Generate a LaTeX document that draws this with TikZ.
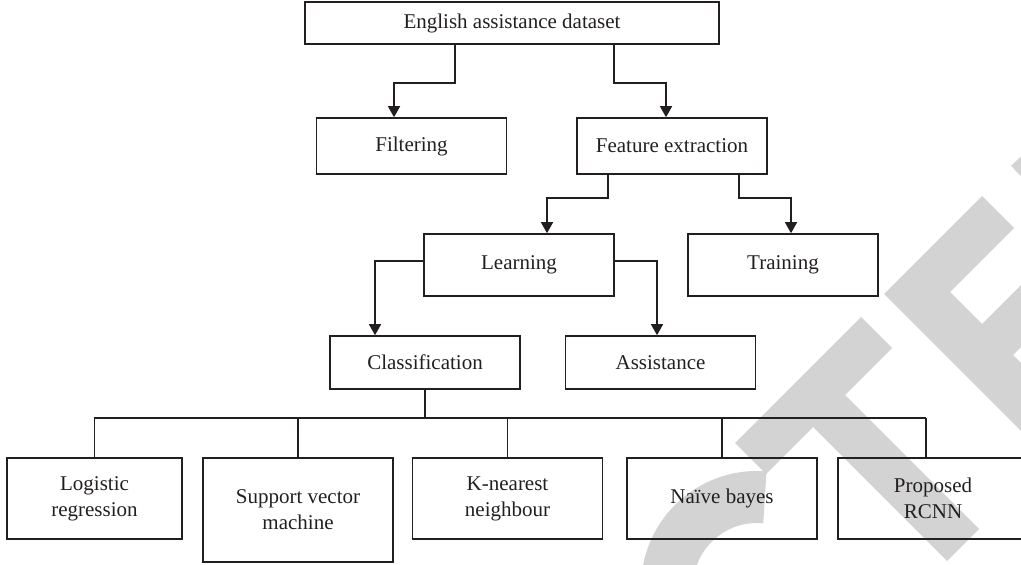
\documentclass[tikz,border=0pt]{standalone}
\usepackage{fontspec}
\setmainfont{Liberation Serif}
\usetikzlibrary{arrows.meta}
\definecolor{wmgray}{RGB}{211,211,211}
\definecolor{ink}{RGB}{35,31,32}

\begin{document}
\begin{tikzpicture}[x=0.5pt,y=0.5pt,
  box/.style={draw=ink, line width=0.8pt, inner sep=0pt, minimum width=95pt, align=center, text=ink, font=\fontsize{10.5}{13}\selectfont},
  line/.style={draw=ink, line width=0.8pt},
  arr/.style={line, -{Triangle[length=5.5pt,width=6pt]}}]
\clip (0,0) rectangle (1021,-565);
% watermark letters behind the chart
\fill[wmgray] (735,-443) -- (861,-317) -- (892,-348) -- (845,-395) -- (979,-529) -- (947,-561) -- (813,-427) -- (766,-474) -- cycle;
\fill[wmgray] (884,-294) -- (982,-196) -- (1014,-228) -- (950,-292) -- (982,-324) -- (1038,-268) -- (1069,-299) -- (1013,-355) -- (1052,-394) -- (1116,-330) -- (1147,-361) -- (1049,-459) -- cycle;
\fill[wmgray] (1011,-166) -- (1044,-134) -- (1209,-299) -- (1176,-332) -- cycle;
\draw[wmgray, line width=26pt] (757,-587) ++(85:90) arc[start angle=85, end angle=365, radius=90];

\node[box, minimum width=207pt, minimum height=21pt] (data) at (512,-23) {English assistance dataset};
\node[box, minimum height=28pt] (filt) at (411.5,-146) {Filtering};
\node[box, minimum height=28pt] (feat) at (672,-146) {Feature extraction};
\node[box, minimum height=31pt] (learn) at (519,-265) {Learning};
\node[box, minimum height=31pt] (train) at (783,-265) {Training};
\node[box, minimum height=26.5pt] (cls) at (425,-362.5) {Classification};
\node[box, minimum height=26.5pt] (assist) at (660.5,-362.5) {Assistance};
\node[box, minimum width=87.5pt, minimum height=40.5pt] (logr) at (94.5,-498.5) {Logistic\\regression};
\node[box, minimum height=52pt] (svm) at (298,-510) {Support vector\\machine};
\node[box, minimum height=40.5pt] (knn) at (507.5,-498.5) {K-nearest\\neighbour};
\node[box, minimum height=40.5pt] (nb) at (722,-498.5) {Naïve bayes};
\node[box, minimum height=40.5pt] (rcnn) at (933,-498.5) {Proposed\\RCNN};

\draw[arr] ([xshift=-28.5pt]data.south) -- ++(0,-38) -| ([xshift=-8.75pt]filt.north);
\draw[arr] ([xshift=51pt]data.south) -- ++(0,-38) -| ([xshift=-3pt]feat.north);
\draw[arr] ([xshift=-32pt]feat.south) -- ++(0,-23) -| ([xshift=14pt]learn.north);
\draw[arr] ([xshift=33.5pt]feat.south) -- ++(0,-23) -| ([xshift=4pt]train.north);
\draw[arr] ([yshift=2pt]learn.west) -| ([xshift=-25pt]cls.north);
\draw[arr] ([yshift=2pt]learn.east) -| ([xshift=-1.75pt]assist.north);

\draw[line] ([xshift=-3.5pt]rcnn.north) -- ++(0,39) coordinate (bus);
\draw[line] (bus) -- (bus -| logr.north) -- (logr.north);
\draw[line] (cls.south) -- (cls.south |- bus);
\draw[line] (svm.north) -- (svm.north |- bus);
\draw[line] (knn.north) -- (knn.north |- bus);
\draw[line] (nb.north) -- (nb.north |- bus);
\end{tikzpicture}
\end{document}
